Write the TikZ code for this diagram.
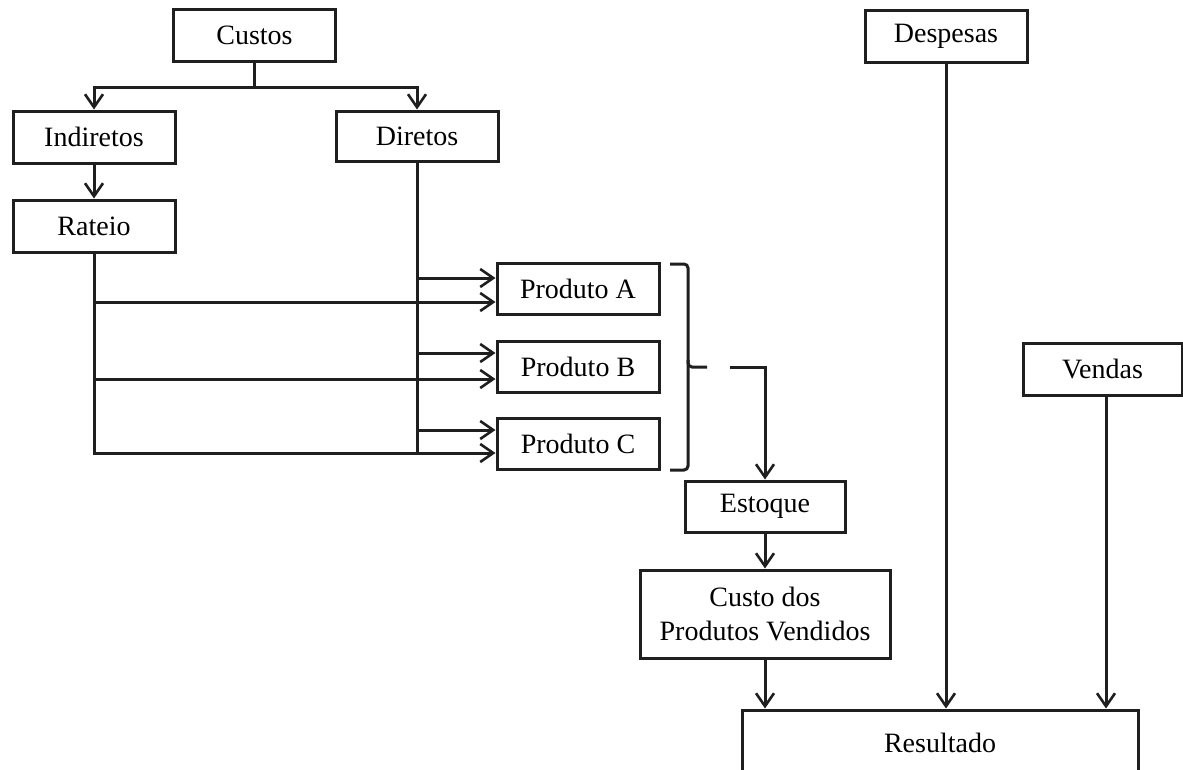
\documentclass[tikz,border=0pt]{standalone}
\usepackage{fontspec}
\setmainfont{Liberation Serif}
\usetikzlibrary{arrows.meta,calc}
\begin{document}
\begin{tikzpicture}[x=1pt,y=-1pt,
  box/.style={draw=black!88,line width=3pt,fill=white,inner sep=0pt,
    minimum width=162pt,minimum height=52pt,align=center,
    font=\fontsize{28}{34}\selectfont},
  conn/.style={draw=black!88,line width=3pt},
  arr/.style={conn,-{Straight Barb[length=13pt,width=18pt,line width=2.6pt]}}]
\useasboundingbox (0,0) rectangle (1183,769);
% nodes
\node[box] (custos) at (254.5,35) {Custos};
\node[box] (indiretos) at (94,137) {Indiretos};
\node[box,minimum height=50pt] (diretos) at (417,136) {Diretos};
\node[box] (rateio) at (94,226) {Rateio};
\node[box,minimum height=51pt] (pa) at (578,288.5) {Produto A};
\node[box,minimum height=51pt] (pb) at (578,366.5) {Produto B};
\node[box,minimum height=51pt] (pc) at (578,444) {Produto C};
\node[box,minimum width=160pt,minimum height=51pt] (estoque) at (765,506.5) {Estoque};
\node[box,minimum width=250pt,minimum height=88pt] (cpv) at (765,614) {Custo dos\\Produtos Vendidos};
\node[box] (despesas) at (946,36) {Despesas};
\node[box,minimum width=159pt] (vendas) at (1102.5,369) {Vendas};
\node[box,minimum width=396pt,minimum height=66pt] (resultado) at (940,743) {Resultado};
% Custos split
\coordinate (split) at ($(custos.south)+(0,25)$);
\draw[conn] (custos.south) -- (split);
\draw[arr] (split) -| (indiretos.north);
\draw[arr] (split) -| (diretos.north);
\draw[arr] (indiretos) -- (rateio);
% Diretos distribution
\coordinate (dend) at (diretos.south |- 0,453);
\draw[conn] (diretos.south) -- (dend);
\draw[arr] (diretos.south |- 0,278) -- (pa.west |- 0,278);
\draw[arr] (diretos.south |- 0,353) -- (pb.west |- 0,353);
\draw[arr] (diretos.south |- 0,430) -- (pc.west |- 0,430);
% Rateio distribution
\draw[arr] (rateio.south) |- (pc.west |- 0,453);
\draw[arr] (rateio.south |- 0,302) -- (pa.west |- 0,302);
\draw[arr] (rateio.south |- 0,379) -- (pb.west |- 0,379);
% brace
\coordinate (btip) at (707,367);
\draw[conn,rounded corners=4pt] (670,264) -- (688,264) -- (688,367) -- (btip);
\draw[conn,rounded corners=4pt] (688,360) -- (688,470) -- (670,470);
\coordinate (bstart) at (730,367);
\draw[arr] (bstart) -| (estoque.north);
\draw[arr] (estoque) -- (cpv);
\draw[arr] (cpv.south) -- (cpv.south |- resultado.north);
\draw[arr] (despesas.south) -- (despesas.south |- resultado.north);
\draw[arr] ([xshift=3.5pt]vendas.south) -- ([xshift=3.5pt]vendas.south |- resultado.north);
\end{tikzpicture}
\end{document}
